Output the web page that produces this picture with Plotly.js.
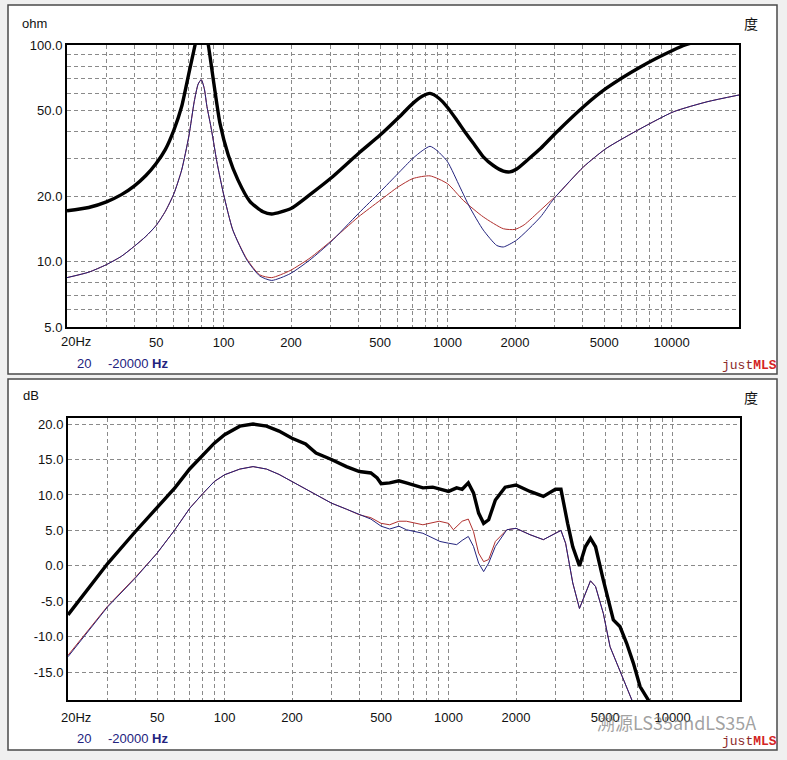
<!DOCTYPE html>
<html>
<head>
<meta charset="utf-8">
<script src="https://cdn.plot.ly/plotly-3.0.1.min.js"></script>
<style>html,body{margin:0;padding:0;background:#f0f0f0;}#chart{width:787px;height:760px;}</style>
</head>
<body>
<div id="chart"></div>
<script>
// ---------- Top panel: impedance (ohm) ----------
const fTopBlack = [20,25,30,35,40,45,50,55,60,65,70,74.6,78,82,85.5,90.5,96.4,105,116,131,150,164,200,243,300,400,500,600,700,770,835,920,1000,1100,1200,1309,1444,1600,1775,1900,2036,2300,2600,3080,4044,5100,7290,10200,11500,15000,20000];
const ohmBlack  = [17.2,17.8,18.9,20.4,22.4,25.0,28.4,33,40.5,52,74,100,125,125,100,66.5,43.5,31.0,23.8,19.0,17.0,16.6,17.6,20.4,24.2,31.6,38.4,45.9,53.8,58.0,59.8,56.5,51.5,45,39.5,35,30.5,27.8,26.2,26.0,26.8,29.8,33.3,39.8,51.9,63,79.4,94.8,100,108,115];

const fTopBlue = [20,25,30,35,40,45,50,55,60,65,70,74,77,79.5,82,84.3,87.6,90.3,93.3,100,110,127,145,164,198,243,300,400,500,600,700,770,835,900,1000,1136,1254,1444,1656,1775,2036,2600,2900,3080,4044,5100,7290,10200,14400,20000];
const ohmBlue  = [8.45,8.95,9.7,10.6,11.8,13.1,14.7,17.1,20.6,26.5,38,55,66,69.2,63,52,42.5,35.5,29,20.5,14,10.2,8.6,8.2,8.8,10.2,12.3,16.7,21.0,25.5,30.0,32.5,34.1,32.5,28.9,22.1,17.9,14.0,11.9,11.7,12.6,16.1,18.8,20.3,27.4,33.3,41.2,49.2,54.7,58.8];

const fTopRed = [20,25,30,35,40,45,50,55,60,65,70,74,77,79.5,82,84.3,87.6,90.3,93.3,100,110,127,145,164,198,243,300,400,500,600,700,835,1000,1175,1444,1775,2000,2197,2600,2900,3080,4044,5100,7290,10200,14400,20000];
const ohmRed  = [8.45,8.95,9.7,10.6,11.8,13.1,14.7,17.1,20.6,26.5,38,55,66,69.2,63,52,42.5,35.5,29,20.5,14,10.3,8.7,8.45,9.1,10.4,12.4,16.1,19.2,22.1,24.2,24.9,22.9,19.2,16.1,14.2,14.1,14.8,17.3,19.2,20.3,27.4,33.3,41.2,49.2,54.7,58.8];

// ---------- Bottom panel: SPL (dB) ----------
const fBotBlack = [20,27.7,30,40,50,60,70,80,90,100,117,134,154,175,200,230,256,300,350,400,450,480,500,546,600,648,700,768,850,915,1000,1087,1150,1225,1292,1362,1434,1510,1618,1789,2000,2310,2650,3000,3175,3400,3585,3840,4080,4300,4530,4908,5440,5822,6238,6683,7160,7790,8000];
const dbBlack  = [-6.9,-1.0,0.3,4.85,8.15,11.0,13.7,15.7,17.3,18.5,19.7,20.0,19.7,19.0,18.0,17.2,15.9,15.0,14.0,13.3,13.1,12.4,11.6,11.7,12.0,11.7,11.4,11.0,11.1,10.8,10.5,11.0,10.8,11.7,10.3,7.45,6.0,6.5,9.3,11.1,11.4,10.5,9.8,10.8,10.8,6.0,2.7,0.0,2.7,3.9,2.7,-2.0,-7.6,-8.55,-10.9,-13.7,-17.0,-18.9,-20];

const fBotBlue = [20,27.7,30,40,50,60,70,80,90,100,117,134,154,175,200,256,300,350,400,450,500,546,600,648,768,850,915,1000,1087,1150,1225,1292,1362,1434,1510,1618,1820,2000,2310,2650,3000,3175,3330,3585,3840,4080,4300,4530,4908,5260,5630,6030,6560,6800];
const dbBlue  = [-12.8,-7.1,-5.8,-1.7,1.8,5.1,8.15,10.2,11.9,12.85,13.65,14.0,13.65,12.9,11.9,10.0,8.85,8.0,7.2,6.6,5.6,5.2,5.6,5.1,4.6,4.0,3.45,3.2,3.0,3.6,4.15,2.75,0.4,-0.8,0.4,2.75,5.1,5.3,4.4,3.7,4.6,5.0,3.2,-2.4,-6.0,-3.8,-2.1,-2.9,-6.7,-11.4,-13.7,-16.1,-18.9,-20];

const fBotRed = [20,27.7,30,40,50,60,70,80,90,100,117,134,154,175,200,256,300,350,400,450,500,546,600,648,768,908,1000,1050,1150,1225,1292,1362,1434,1510,1618,1820,2000,2310,2650,3000,3175,3330,3585,3840,4080,4300,4530,4908,5260,5630,6030,6560,6800];
const dbRed  = [-12.6,-7.0,-5.7,-1.6,1.8,5.1,8.15,10.2,11.9,12.85,13.65,14.0,13.65,12.9,11.9,10.0,8.85,8.0,7.2,6.8,6.0,5.8,6.3,6.3,5.8,6.3,6.0,5.1,6.3,6.6,4.85,1.8,0.6,0.9,3.45,5.1,5.3,4.4,3.7,4.6,5.0,3.2,-2.4,-6.0,-3.8,-2.1,-2.9,-6.7,-11.4,-13.7,-16.1,-18.9,-20];

// ---------- Tick labels ----------
const xGridVals = [20,30,40,50,60,70,80,90,100,200,300,400,500,600,700,800,900,1000,2000,3000,4000,5000,6000,7000,8000,9000,10000,20000];
const xLabelMap = {50:'50',100:'100',200:'200',500:'500',1000:'1000',2000:'2000',5000:'5000',10000:'10000'};
const xTickText = xGridVals.map(v => xLabelMap[v] || '');

const ohmGridVals = [5,6,7,8,9,10,20,30,40,50,60,70,80,90,100];
const ohmLabelMap = {5:'5.0',10:'10.0',20:'20.0',50:'50.0',100:'100.0'};
const ohmTickText = ohmGridVals.map(v => ohmLabelMap[v] || '');

const phaseTopVals = [90,75,60,45,30,15,0,-15,-30,-45,-60,-75,-90];
const phaseTopText = ['+90','+75','+60','+45','+30','+15','+0','-15','-30','-45','-60','-75','-90'];

const dbVals = [20,15,10,5,0,-5,-10,-15];
const dbText = ['20.0','15.0','10.0','5.0','0.0','-5.0','-10.0','-15.0'];

const phaseBotVals = [180,150,120,90,60,30,0,-30,-60,-90,-120,-150,-180];
const phaseBotText = ['+180','+150','+120','+90','+60','+30','+0','-30','-60','-90','-120','-150','-180'];

// ---------- helpers ----------
const W = 787, H = 760;
const px = x => x / W;
const py = y => 1 - y / H;
const FONT = 'Liberation Sans, Arial, sans-serif';
const TF = {family: FONT, size: 13, color: '#111'};
const GRID = {showgrid: true, gridcolor: '#8a8a8a', gridwidth: 1, griddash: '4px,3px'};
const BLUE = '#23237e', RED = '#b0302e';
const SPL = {shape: 'spline', smoothing: 0.6};

const traces = [
  {x: fTopBlack, y: ohmBlack, xaxis: 'x', yaxis: 'y', mode: 'lines', line: Object.assign({color: '#000', width: 3.4}, SPL), hoverinfo: 'skip'},
  {x: fTopRed, y: ohmRed, xaxis: 'x', yaxis: 'y', mode: 'lines', line: Object.assign({color: RED, width: 1}, SPL), hoverinfo: 'skip'},
  {x: fTopBlue, y: ohmBlue, xaxis: 'x', yaxis: 'y', mode: 'lines', line: Object.assign({color: BLUE, width: 1}, SPL), hoverinfo: 'skip'},
  {x: fBotBlack, y: dbBlack, xaxis: 'x2', yaxis: 'y3', mode: 'lines', line: {color: '#000', width: 3.4}, hoverinfo: 'skip'},
  {x: fBotRed, y: dbRed, xaxis: 'x2', yaxis: 'y3', mode: 'lines', line: {color: RED, width: 1}, hoverinfo: 'skip'},
  {x: fBotBlue, y: dbBlue, xaxis: 'x2', yaxis: 'y3', mode: 'lines', line: {color: BLUE, width: 1}, hoverinfo: 'skip'}
];

const xCommon = Object.assign({
  type: 'log', range: [Math.log10(20), Math.log10(20000)],
  tickvals: xGridVals, ticktext: xTickText, ticks: '', tickfont: TF,
  showline: true, mirror: true, linecolor: '#000', linewidth: 2, zeroline: false, fixedrange: true
}, GRID);

const layout = {
  width: W, height: H,
  margin: {l: 0, r: 0, t: 0, b: 0},
  paper_bgcolor: '#f0f0f0', plot_bgcolor: '#fff',
  showlegend: false,
  xaxis: Object.assign({}, xCommon, {domain: [px(67), px(739)], anchor: 'y', ticklabelstandoff: 2}),
  yaxis: Object.assign({
    type: 'log', range: [Math.log10(5), 2], domain: [py(327), py(45)], anchor: 'x',
    tickvals: ohmGridVals, ticktext: ohmTickText, ticks: '', tickfont: TF,
    showline: true, mirror: true, linecolor: '#000', linewidth: 2, zeroline: false, fixedrange: true
  }, GRID),
  yaxis2: {
    overlaying: 'y', side: 'right', anchor: 'x', range: [-90, 90],
    tickvals: phaseTopVals, ticktext: phaseTopText, ticks: 'outside', ticklen: 3, tickcolor: '#000',
    tickfont: TF, showgrid: false, zeroline: false, showline: false, fixedrange: true
  },
  xaxis2: Object.assign({}, xCommon, {domain: [px(68), px(740)], anchor: 'y3', ticklabelstandoff: 4}),
  yaxis3: Object.assign({
    range: [-18.9, 20.85], domain: [py(700), py(418)], anchor: 'x2',
    tickvals: dbVals, ticktext: dbText, ticks: '', tickfont: TF,
    showline: true, mirror: true, linecolor: '#000', linewidth: 2, zeroline: false, fixedrange: true
  }, GRID),
  yaxis4: {
    overlaying: 'y3', side: 'right', anchor: 'x2', range: [-180, 180],
    tickvals: phaseBotVals, ticktext: phaseBotText, ticks: 'outside', ticklen: 3, tickcolor: '#000',
    tickfont: TF, showgrid: false, zeroline: false, showline: false, fixedrange: true
  },
  shapes: [
    {type: 'rect', xref: 'paper', yref: 'paper', x0: px(8), x1: px(777), y0: py(374), y1: py(5), fillcolor: '#fff', line: {color: '#4a4a4a', width: 1.5}, layer: 'below'},
    {type: 'rect', xref: 'paper', yref: 'paper', x0: px(8), x1: px(777), y0: py(750), y1: py(379), fillcolor: '#fff', line: {color: '#4a4a4a', width: 1.5}, layer: 'below'}
  ],
  annotations: [
    {xref: 'paper', yref: 'paper', x: px(20), y: py(23), xanchor: 'left', yanchor: 'middle', text: 'ohm', showarrow: false, font: TF},
    {xref: 'paper', yref: 'paper', x: px(21), y: py(396), xanchor: 'left', yanchor: 'middle', text: 'dB', showarrow: false, font: TF},
    {xref: 'paper', yref: 'paper', x: px(742), y: py(23), xanchor: 'left', yanchor: 'middle', text: '度', showarrow: false, font: {family: 'Noto Sans CJK SC', size: 14, color: '#111'}},
    {xref: 'paper', yref: 'paper', x: px(742), y: py(397), xanchor: 'left', yanchor: 'middle', text: '度', showarrow: false, font: {family: 'Noto Sans CJK SC', size: 14, color: '#111'}},
    {xref: 'paper', yref: 'paper', x: px(59), y: py(342), xanchor: 'left', yanchor: 'middle', text: '20Hz', showarrow: false, font: TF},
    {xref: 'paper', yref: 'paper', x: px(59), y: py(717), xanchor: 'left', yanchor: 'middle', text: '20Hz', showarrow: false, font: TF},
    {xref: 'paper', yref: 'paper', x: px(75), y: py(363), xanchor: 'left', yanchor: 'middle', text: '20', showarrow: false, font: {family: FONT, size: 13, color: BLUE}},
    {xref: 'paper', yref: 'paper', x: px(106), y: py(363), xanchor: 'left', yanchor: 'middle', text: '-20000 <b>Hz</b>', showarrow: false, font: {family: FONT, size: 13, color: BLUE}},
    {xref: 'paper', yref: 'paper', x: px(75), y: py(738), xanchor: 'left', yanchor: 'middle', text: '20', showarrow: false, font: {family: FONT, size: 13, color: BLUE}},
    {xref: 'paper', yref: 'paper', x: px(106), y: py(738), xanchor: 'left', yanchor: 'middle', text: '-20000 <b>Hz</b>', showarrow: false, font: {family: FONT, size: 13, color: BLUE}},
    {xref: 'paper', yref: 'paper', x: px(779), y: py(365), xanchor: 'right', yanchor: 'middle', text: "<span style='color:#8c2a2a'>just</span><b><span style='color:#d42424'>MLS</span></b>", showarrow: false, font: {family: 'Liberation Mono, monospace', size: 13, color: '#8c2a2a'}},
    {xref: 'paper', yref: 'paper', x: px(779), y: py(741), xanchor: 'right', yanchor: 'middle', text: "<span style='color:#8c2a2a'>just</span><b><span style='color:#d42424'>MLS</span></b>", showarrow: false, font: {family: 'Liberation Mono, monospace', size: 13, color: '#8c2a2a'}},
    {xref: 'paper', yref: 'paper', x: px(676), y: py(722), xanchor: 'center', yanchor: 'middle', text: '溯源LS35andLS35A', showarrow: false, font: {family: 'Noto Sans CJK SC', size: 18, color: 'rgba(120,120,120,0.7)'}}
  ]
};

Plotly.newPlot('chart', traces, layout, {staticPlot: true, displayModeBar: false});
</script>
</body>
</html>
